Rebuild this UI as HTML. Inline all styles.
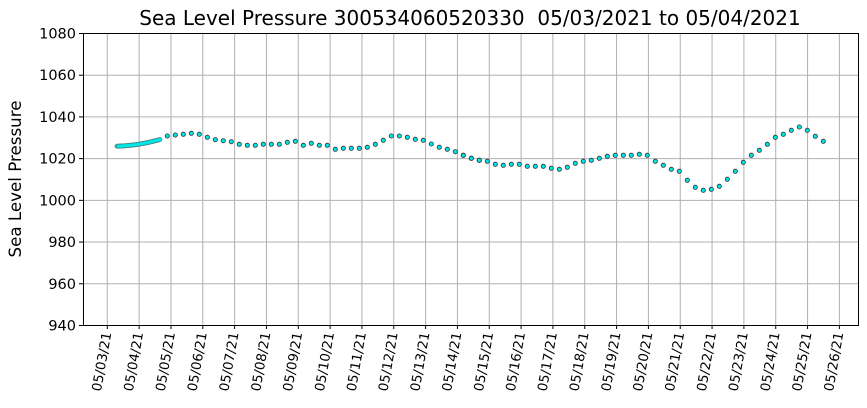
<!DOCTYPE html>
<html><head><style>body{margin:0;background:#fff}svg{display:block;font-family:"DejaVu Sans","Liberation Sans",sans-serif}</style></head>
<body>
<svg id="s" width="867" height="408" xmlns="http://www.w3.org/2000/svg">
<rect width="867" height="408" fill="#fff"/>
<text x="470" y="25" font-size="20" text-anchor="middle" style="white-space:pre">Sea Level Pressure 300534060520330  05/03/2021 to 05/04/2021</text>
<text transform="translate(21,179) rotate(-90)" font-size="16.7" text-anchor="middle">Sea Level Pressure</text>
<g id="g"></g>
<rect x="83.5" y="33.5" width="775" height="292" fill="none" stroke="#000" stroke-width="1"/>
</svg>
<script>
var g=document.getElementById('g'),h='';
for(var i=0;i<=7;i++){var v=1080-20*i,y=33.5+i*41.71;
h+='<line x1="83" x2="858" y1="'+y+'" y2="'+y+'" stroke="#b0b0b0" stroke-width="1"/>';
h+='<line x1="79" x2="83" y1="'+y+'" y2="'+y+'" stroke="#000"/>';
h+='<text x="76" y="'+(y+5)+'" font-size="14.5" text-anchor="end">'+v+'</text>';}
for(var i=0;i<=23;i++){var x=107.3+i*31.83,d=3+i,m=d>31?6:5;d=d>31?d-31:d;
var lab='0'+m+'/'+(d<10?'0'+d:d)+'/21';
h+='<line x1="'+x+'" x2="'+x+'" y1="33" y2="325" stroke="#b0b0b0" stroke-width="1"/>';
h+='<line x1="'+x+'" x2="'+x+'" y1="325" y2="329" stroke="#000"/>';
h+='<text transform="translate('+(x+4)+',333) rotate(-80)" font-size="13.3" text-anchor="end">'+lab+'</text>';}
var pd='';for(var x=117;x<=160;x+=1){var t=(x-117)/43;var y=146.2-1.2*t-5.5*t*t;pd+=(pd?'L':'M')+x+','+y.toFixed(1);
h+='<circle cx="'+x+'" cy="'+y.toFixed(1)+'" r="2.2" fill="#00e5e5" stroke="#555" stroke-width="0.4"/>';}
h+='<path d="'+pd+'" fill="none" stroke="#00e5e5" stroke-width="3"/>';
var a=[[253,78],[277,75],[301,73],[325,70],[349,73],[373,82],[397,89],[421,92],[445,95],[469,103],[493,106],[517,106],[541,103],[565,103],[589,103],[613,97],[637,94],[661,106],[685,100],[709,106],[733,106],[757,118],[781,115],[805,115],[829,115],[853,112],[877,103],[901,91],[925,78],[949,78],[973,82],[997,88],[1021,91],[1045,102],[1069,112],[1093,118],[1117,125],[1141,136],[1165,145],[1189,151]];
var b=[[10,136],[34,145],[58,151],[82,154],[106,163],[130,166],[154,163],[178,163],[202,169],[226,169],[250,169],[274,175],[298,178],[322,172],[346,160],[370,154],[394,151],[418,145],[442,139],[466,136],[490,136],[514,136],[538,133],[562,136],[586,154],[610,166],[634,178],[658,184],[682,211],[706,232],[730,241],[754,238],[778,229],[802,208],[826,184],[850,157],[874,136],[898,121],[922,103],[946,82],[970,73],[994,61],[1018,51],[1042,61],[1066,79],[1090,94]];
function c(x,y){h+='<circle cx="'+x.toFixed(1)+'" cy="'+y.toFixed(1)+'" r="2.1" fill="#00e5e5" stroke="#333" stroke-width="0.8"/>';}
a.forEach(function(p){c(83+p[0]/3,110+p[1]/3)});
b.forEach(function(p){c(460+p[0]/3,110+p[1]/3)});
g.innerHTML=h;
</script>
</body></html>
